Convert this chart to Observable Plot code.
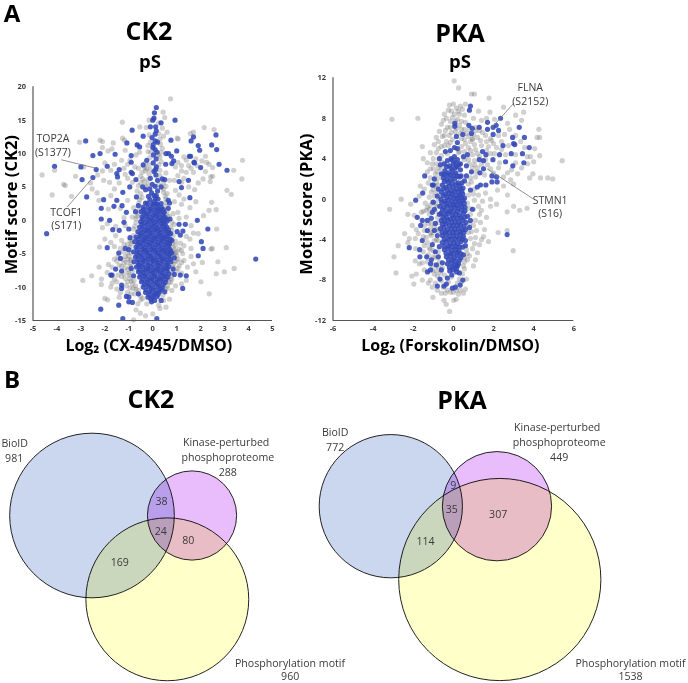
<!DOCTYPE html>
<html>
<head>
<meta charset="utf-8">
<script src="https://cdn.jsdelivr.net/npm/d3@7"></script>
<script src="https://cdn.jsdelivr.net/npm/@observablehq/plot@0.6"></script>
<style>
html,body{margin:0;padding:0;background:#fff}
#page{position:relative;width:688px;height:683px;overflow:hidden;font-family:"Open Sans",sans-serif}
#page svg{position:absolute;background:transparent}
.h{position:absolute;font-weight:700;color:#000;line-height:1;transform:translate(-50%,-50%);white-space:nowrap}
</style>
</head>
<body>
<div id="page"></div>
<script>
const ck2XTicks=[-5,-4,-3,-2,-1,0,1,2,3,4,5];
const ck2YTicks=[-15,-10,-5,0,5,10,15,20];
const pkaXTicks=[-6,-4,-2,0,2,4,6];
const pkaYTicks=[-12,-8,-4,0,4,8,12];

const ck2Hits=[[-4.43,-2],[-4.1,8.1],[-2.8,11.9],[-2.5,9.7],[-2.2,10],[-3,8],[-2.95,6.1],[-2.5,6.4],[-2.36,7.6],[-2.76,3.5],[-2.05,3.1],[-1.9,8.1],[-2.15,1.8],[-2.15,.2],[-1.8,0],[-1.67,-1.4],[-1.9,-4.1],[-2.17,-13.3],[-1.25,-14.7],[-1.42,-12.7],[.17,-14.7],[4.3,-5.8],[3.1,7.5],[2.77,8.4],[2.67,10.6],[2.64,12.8],[2.46,11.3],[1.7,12.5],[1.6,11.9],[1.9,11.2],[1.96,10.5],[1.53,9.6],[1.58,9.6],[1.74,8.6],[1.72,8.7],[2,7.9],[1.49,6],[1.1,5.8],[1.2,4.9],[1.55,3.4],[1.86,0],[2.3,-1.3],[2.03,-3.2],[2.1,-4.2],[1.9,-5.3],[1.4,-8.3],[1.25,-10.2],[1.15,-8.2],[1.1,-.6],[1.36,-.6],[1.26,-1.6],[1.02,-1.7],[1.15,-2.2],[.93,15],[.15,16.9],[.07,16.1],[.05,15.3],[0,15],[.35,14.6],[-.86,13.5],[-.4,12.6],[-.1,14],[.12,14],[.15,13.4],[.76,12],[-1.08,11.6],[-.65,11.3],[-.55,11],[-1.57,9.9],[-.9,9.7],[-.9,8.7],[-.4,8.3],[-.25,9],[.55,10],[.66,10],[.78,9.6],[1,10.4],[.87,8.9],[.8,8.5],[.54,8.4],[-1.4,7.6],[-1.5,7],[-1.47,6.5],[-.9,7.2],[-.85,7],[-.7,6.1],[-1.25,4.2],[-.96,5],[-1.5,3],[-1.62,2.1],[-1.28,2.2],[-.68,3.5],[-.3,4.6],[-.42,5],[-.12,4.7],[.2,4.4],[.35,5],[.4,6.2],[.5,6.1],[-.1,6.3],[.13,6.8],[.15,8],[.03,9.8],[.1,10.6],[.02,11.3],[.2,11.7],[-.03,12.4],[.1,12.9],[.65,3],[.7,2.6],[.65,1.8],[.72,.2],[-.72,1.3],[-.6,2.2],[-1.1,1.2],[-1.2,-.3],[-1,-1.3],[-.95,-2.6],[-1.4,-1.5],[-1,-4.4],[-1.15,-4.2],[-1.42,-4.9],[-1.35,-5.7],[-1.55,-7.3],[-1.75,-8.2],[-1.7,-8.2],[-1.3,-7.6],[-1.3,-9.7],[-1.3,-10.2],[-1.1,-11.4],[-1,-11.5],[-1,-12.2],[-.85,-12.3],[-.6,-11],[-.8,-8.3],[-.9,-7.2],[.8,-4.9],[.9,-5.6],[.85,-7.3],[.9,-8.1],[.5,-10.7],[.35,-12],[-.05,-12.2],[.75,-2],[.8,-3]];
const ck2Core=[[-.12,3.1],[.05,2.8],[.22,3.2],[-.3,2.6],[.35,2.5],[-.4,2],[-.2,1.9],[0,2.1],[.18,1.8],[.36,1.9],[-.48,1.3],[-.28,1.2],[-.08,1.4],[.1,1.1],[.3,1.3],[.48,1.2],[-.45,.5],[-.25,.6],[-.05,.4],[.15,.6],[.33,.4],[.5,.5],[-.5,-.2],[-.3,-.3],[-.12,-.1],[.08,-.3],[.27,-.1],[.45,-.3],[.6,-.1],[-.55,-1],[-.36,-.9],[-.17,-1.1],[.02,-.9],[.2,-1.1],[.4,-.9],[.58,-1],[-.62,-1.7],[-.42,-1.8],[-.24,-1.6],[-.05,-1.8],[.14,-1.6],[.33,-1.8],[.52,-1.6],[.68,-1.8],[-.7,-2.5],[-.5,-2.4],[-.3,-2.6],[-.12,-2.4],[.08,-2.6],[.27,-2.4],[.46,-2.6],[.63,-2.4],[-.75,-3.2],[-.56,-3.3],[-.37,-3.1],[-.18,-3.3],[0,-3.1],[.2,-3.3],[.39,-3.1],[.58,-3.3],[.72,-3.2],[-.7,-4],[-.5,-3.9],[-.31,-4.1],[-.11,-3.9],[.07,-4.1],[.27,-3.9],[.46,-4.1],[.65,-3.9],[-.8,-4.7],[-.58,-4.8],[-.38,-4.6],[-.2,-4.8],[0,-4.6],[.2,-4.8],[.39,-4.6],[.58,-4.8],[.75,-4.6],[-.72,-5.5],[-.5,-5.4],[-.3,-5.6],[-.1,-5.4],[.08,-5.6],[.28,-5.4],[.47,-5.6],[.66,-5.4],[-.78,-6.2],[-.58,-6.3],[-.38,-6.1],[-.2,-6.3],[0,-6.1],[.2,-6.3],[.39,-6.1],[.6,-6.3],[.76,-6.2],[-.68,-7],[-.48,-6.9],[-.28,-7.1],[-.09,-6.9],[.1,-7.1],[.29,-6.9],[.48,-7.1],[.67,-6.9],[-.6,-7.7],[-.4,-7.8],[-.2,-7.6],[0,-7.8],[.2,-7.6],[.39,-7.8],[.6,-7.6],[-.55,-8.5],[-.33,-8.4],[-.13,-8.6],[.07,-8.4],[.26,-8.6],[.46,-8.4],[.63,-8.5],[-.47,-9.2],[-.25,-9.3],[-.05,-9.1],[.15,-9.3],[.34,-9.1],[.52,-9.3],[-.4,-10],[-.18,-9.9],[.02,-10.1],[.22,-9.9],[.4,-10.1],[-.3,-10.8],[-.1,-10.7],[.1,-10.9],[.28,-10.7],[-.2,-11.5],[0,-11.5],[.18,-11.4],[.08,-12],[-.02,5.4],[.1,5.1],[.2,6],[.05,7.3],[.12,7.6],[.02,8.6],[.14,9.2],[.18,10.2],[0,10.9],[.1,11.9],[.05,3.7],[-.05,4.1],[.15,3.7]];
const ck2Core2=[[-.22,2.5],[-.02,2.45],[.15,2.5],[-.38,1.6],[-.1,1.65],[.09,1.55],[.27,1.6],[.44,1.6],[-.37,.9],[-.17,.95],[.02,.8],[.22,.9],[.42,.85],[-.4,.15],[-.2,.2],[-.01,.05],[.18,.15],[.38,.1],[.56,.2],[-.45,-.6],[-.21,-.55],[-.03,-.65],[.17,-.6],[.36,-.55],[.52,-.6],[-.46,-1.35],[-.27,-1.4],[-.08,-1.4],[.11,-1.35],[.3,-1.4],[.49,-1.3],[.65,-1.4],[-.53,-2.1],[-.33,-2.15],[-.14,-2.05],[.05,-2.2],[.24,-2.1],[.42,-2.2],[.6,-2.05],[-.6,-2.85],[-.4,-2.9],[-.21,-2.8],[-.02,-2.9],[.17,-2.8],[.36,-2.85],[.55,-2.8],[.72,-2.8],[-.62,-3.6],[-.42,-3.55],[-.24,-3.65],[-.05,-3.55],[.13,-3.65],[.33,-3.55],[.52,-3.65],[.7,-3.55],[-.64,-4.4],[-.42,-4.35],[-.25,-4.45],[-.05,-4.35],[.14,-4.45],[.33,-4.35],[.52,-4.45],[.7,-4.3],[-.66,-5.1],[-.45,-5.15],[-.26,-5.05],[-.08,-5.2],[.12,-5.05],[.32,-5.15],[.5,-5.05],[.7,-5.1],[-.62,-5.85],[-.42,-5.9],[-.2,-5.8],[-.02,-5.85],[.17,-5.95],[.37,-5.8],[.56,-5.9],[.74,-5.8],[-.6,-6.65],[-.4,-6.6],[-.2,-6.7],[0,-6.55],[.2,-6.65],[.4,-6.55],[.58,-6.65],[-.55,-7.35],[-.35,-7.4],[-.16,-7.3],[.03,-7.45],[.23,-7.35],[.42,-7.4],[.6,-7.25],[-.5,-8.1],[-.3,-8.15],[-.1,-8.05],[.1,-8.15],[.3,-8.05],[.5,-8.15],[.68,-8],[-.42,-8.85],[-.22,-8.9],[-.02,-8.8],[.18,-8.9],[.36,-8.8],[.55,-8.85],[-.35,-9.6],[-.13,-9.65],[.06,-9.55],[.25,-9.65],[.44,-9.6],[-.28,-10.4],[-.06,-10.35],[.13,-10.45],[.33,-10.35],[-.15,-11.1],[.05,-11.15],[.22,-11.05],[-.08,-11.8],[.12,3.3],[-.18,3.6],[.2,2.35]];
const ck2Rest=[[.74,18.2],[.43,16.2],[.5,15.4],[-1.27,14.7],[-.54,14],[-.27,13.9],[2.15,13.9],[2.56,13.6],[1.7,13.2],[1.57,13],[1.02,12.3],[1.06,12.2],[-2.2,12],[-2.1,11.8],[-3.05,11.7],[-1.65,11.6],[-1.26,12.3],[-1.18,12],[-2.1,10.9],[-1.87,10.4],[-1.7,10.7],[3.75,9],[3.38,7.5],[3.72,6.2],[3.1,4.5],[3.28,3.9],[2.46,2.7],[2.65,1.6],[2.35,1.5],[2.12,.7],[2.67,-1.3],[2.49,-4.2],[2.43,-4.3],[3.07,-4.1],[2.72,-6.2],[3.4,-7.2],[2.99,-7.7],[2.65,-8],[2.36,-11],[2.01,-9.2],[2.07,-6.3],[-4.62,6.8],[-4.1,7.5],[-4.2,3.8],[-3.72,5.4],[-3.65,5.2],[-3.22,6.6],[-3.39,3.6],[-2.88,8],[-2.53,4.7],[-2.32,4.1],[-2.25,3],[-2.92,-9],[-2.55,-8.3],[-2.24,-7],[-2.14,-8.8],[-2.15,-9.6],[-2,-11.7],[-1.88,-11.9],[-2.22,-4],[-2,-2.8],[-2.1,-1.1],[-.8,-14.9],[-.52,-13.9],[-.3,-14.3],[0,-14],[.3,-13.2],[.55,-13],[-.7,-13.4],[2.05,8.9],[2.25,8.7],[2.35,8.4],[2.5,7.9],[2.2,7.3],[2.42,6.5],[2.5,6.6],[2.1,6.2],[1.9,5.6],[2.4,5.8],[2.2,9.6],[1.8,9.2],[1.4,9],[1.2,7.4],[1.4,7.2],[1.7,7.2],[1.05,6.7],[1.3,6.3],[.9,6],[.95,4.5],[1.1,3.8],[.9,2.8],[1.2,2.4],[1.55,1.9],[1.05,1.2],[1.4,.5],[1.7,-1.9],[1.55,-2.8],[1.3,-3.8],[1.1,-4.3],[1.25,-5],[1.6,-4.2],[1.7,-6.5],[1.45,-7],[1.1,-6.8],[1.2,-9.5],[.95,-9.8],[.8,-10.5],[.7,-11.8],[-2,8.6],[-1.75,7.5],[-1.6,8.4],[-1.3,9],[-1.15,10.5],[-.7,9.8],[-.55,10.2],[-2.05,6],[-1.8,5.7],[-1.4,5.6],[-1.05,6.3],[-.6,7.8],[-.5,6.6],[-.3,7.4],[-1.75,3.7],[-1.05,3],[-1.9,-.5],[-1.55,-2.3],[-1.3,-3],[-1.75,-3.3],[-1.6,-5.8],[-1.85,-6.6],[-1.4,-6.7],[-1.05,-5.8],[-1.15,-7.1],[-1.6,-8.8],[-1.75,-10],[-1.5,-10.3],[-1.05,-9.2],[-.95,-10.1],[-1.4,-11.5],[-.75,-11],[-1.15,-.8],[-.85,.5],[-.8,1.9],[-.55,3.1],[-.65,4.4],[.6,4],[.55,3.2],[.85,1],[.9,-.6],[.95,-3.7],[1,-5.3],[1,-7.6],[.75,-9.3],[.3,7.5],[.35,8.8],[.4,10.8],[.45,12.6],[.6,13.2],[-.2,10.3],[-.25,7.7],[-.35,5.8],[-.15,6.9],[-.2,5.4],[.55,7.1],[.7,6],[.45,4.7],[-.9,-3.5],[-1.05,-4.9],[-.9,-5.8],[-1.15,-5.4],[-.95,-8.7],[-.85,-9.5],[-.7,-10.3],[-.9,-6.5],[-1,-7.9],[.85,-6.6],[.95,-4.9],[.85,-4.1],[1,-6.1],[.8,-8.8],[.6,-10.2],[-.5,-11.9],[-.25,-12.5],[.25,-12.7],[.45,-12],[-.95,-3],[-.8,-1.3],[-.7,-.3],[.75,-1],[.85,-2.3],[-1.3,-8.4],[-1.2,-6.4],[-1.45,-8.2],[-1.25,-4.7],[1.2,-7.9],[-.65,.6],[-.55,1.5],[.6,.8],[.55,2.1]];
const ck2Rest2=[[-.95,-4],[-1.05,-3.6],[-.88,-4.9],[-1,-5.3],[-.92,-6],[-1.08,-6.3],[-.95,-6.9],[-.85,-7.6],[-1.05,-7.4],[-.98,-8.2],[-.78,-9],[-.9,-9.1],[-.72,-9.8],[-.82,-10.2],[-.6,-10.5],[-.52,-11.3],[-.42,-11.7],[-1.25,-5.9],[-1.3,-6.9],[-1.2,-8],[-1.15,-8.7],[-1.1,-9.8],[-1.2,-3.6],[-1.35,-4.2],[-1.45,-5.5],[-.85,-3.2],[-.8,-2.3],[-.75,-.9],[-.7,.3],[-.62,1],[-.58,2.6],[.82,-3.5],[.9,-4.4],[.88,-5.2],[.92,-6.2],[.85,-7],[.82,-7.8],[.75,-8.6],[.68,-9.2],[.62,-9.8],[.52,-10.3],[.42,-11.2],[.95,-3.1],[1,-4.7],[1.05,-5.8],[1.05,-7.2],[1.15,-3.4],[1.2,-4.5],[1.2,-6.3],[.8,-1.5],[.8,-.3],[.68,.6],[.6,1.4],[.55,2.7],[.52,3.6],[.45,4.2],[-.45,3.4],[-.5,4],[-.6,5.2],[-.5,5.6],[-.42,6.2],[-.45,7.2],[-.35,7.9],[-.3,8.6],[-.15,8.3],[-.1,7.6],[-.2,6.1],[-.3,5.1],[.25,5.4],[.3,6.7],[.45,5.6],[.55,5.1],[.25,8.3],[.3,9.5],[.22,9.8],[.35,10.2],[-.12,9.4],[-.08,10.2],[-.2,11.2],[-.1,11.7],[.32,11.4],[.3,12.2],[.25,13],[-.15,12.8],[.4,13.8],[.25,14.6],[-.15,15],[-1.2,7.8],[-1.05,8.4],[-.95,9],[-1.15,6.9],[-.85,5.7],[-.75,8],[.95,8],[1.05,8.7],[1.2,8.2],[1.5,8.2],[1.3,9.5],[1.6,7.8],[1.85,8.2],[1.2,5.7],[1.5,5],[1.75,4.6],[1.3,3.2],[1.8,2.8],[1.1,.3],[1.6,-.8],[1.9,-2],[1.4,-2.4],[1.6,-5.4],[1.3,-6],[1.4,-9],[1.8,-7.7],[-1.55,-.9],[-1.85,1.7],[-1.2,.4],[-1.35,1.8],[-2.3,6.8],[-2.1,7.4],[-2.6,5.6],[-1.6,4.7],[-1.9,-7.8],[-1.7,-9.4],[-1.5,-9.2],[-1.35,-10.8],[-1.05,-10.8],[-.9,-11],[-.62,-12.5],[-1.6,-3.9],[-1.5,-6.1],[-1.7,-7]];

const pkaHits=[[.85,9.2],[.8,8.8],[2.35,8],[1.7,7.6],[1.7,6.9],[1.98,7.1],[2.13,7.3],[2.25,6.8],[1.98,6.4],[3.28,7.1],[1.29,7.1],[.77,7.3],[.94,7],[.9,6.5],[.47,6.4],[.07,7.5],[.07,7.2],[2.95,6.1],[3.54,6.1],[3,5.5],[3.06,5.4],[3.78,5.1],[2.47,5.3],[3.44,4.5],[2.88,4.5],[2.3,4.4],[1.45,4.7],[1.62,4.4],[3.51,3.6],[2.6,3.7],[2.96,3.3],[1.97,3.9],[1.29,3.9],[1.5,3.8],[1.5,3],[1.32,2.6],[1.92,2.3],[2.15,2.2],[1.92,1.7],[2.18,1.7],[1.62,1.4],[1.35,1.4],[1.19,1.2],[2.68,-3.5],[-2.2,-4.8],[-1.88,-.1],[-1.53,.6],[-1.43,2.3],[-1.05,1.4],[-1,1.4],[-1.8,-1.8],[-1.55,-2.1],[-1.63,-2.6],[-1.3,-2.1],[-1.3,-3.1],[-1.55,-4.1],[-1.68,-5],[-1.67,-5.7],[-1.33,-5.7],[-1.29,-7.2],[-1.14,-7],[-1.14,-6.4],[-.8,-8.6],[-.67,-7.9],[-.47,-8.6],[-.35,-8.4],[-.3,-7.8],[-.05,-8.8],[.1,-8.7],[.34,-8.5],[.47,-8],[.05,5.1],[.2,5.6],[.2,5],[.15,6.2],[-.15,4.8],[-.4,4.7],[.5,4.2],[.7,4.4],[.35,3.5],[.65,3.3],[.9,2.7],[.65,2.3],[.55,1.8],[.85,.9],[.95,-1],[.85,-2.1],[.8,-2.8],[.6,-4.1],[.6,-4.6],[.5,-5.5],[-.7,4],[-.65,3.4],[-.6,2.5],[-.95,2],[-.75,1],[-1,-.3],[-.95,-1],[-1.05,-1.3],[-1.1,-1.9],[-.9,-2.4],[-.95,-3.1],[-1.05,-4.5],[-.9,-5.2],[-1.1,-6],[-.85,-6.5],[-.75,-5.7],[-.6,-7],[.3,-7.3],[.2,-6.6],[.6,-3],[.7,-1.7],[-.55,-6.3],[-.7,-4.7],[-.8,-3.6],[-.8,.3],[-.7,-1.5]];
const pkaCore=[[-.12,4],[.05,4.2],[.2,3.9],[-.3,3.8],[-.45,3.5],[-.2,3.3],[0,3.5],[.18,3.2],[.35,2.9],[-.42,2.8],[-.25,2.6],[-.05,2.8],[.12,2.6],[.3,2.2],[-.5,2.1],[-.32,1.9],[-.13,2],[.06,2],[.23,1.6],[.42,1.6],[-.55,1.4],[-.38,1.2],[-.2,1.3],[-.02,1.2],[.15,1],[.35,1],[-.6,.7],[-.4,.5],[-.22,.6],[-.05,.5],[.13,.3],[.3,.4],[.47,.5],[-.62,0],[-.43,-.2],[-.25,-.1],[-.08,-.2],[.1,-.3],[.28,-.2],[.46,-.1],[-.68,-.7],[-.48,-.8],[-.3,-.7],[-.12,-.9],[.06,-.8],[.24,-.9],[.42,-.7],[.58,-.8],[-.62,-1.4],[-.42,-1.5],[-.25,-1.4],[-.06,-1.6],[.12,-1.5],[.3,-1.6],[.5,-1.4],[-.6,-2.1],[-.44,-2.2],[-.27,-2.1],[-.08,-2.3],[.1,-2.2],[.28,-2.3],[.46,-2.1],[.62,-2.3],[-.65,-2.9],[-.47,-2.8],[-.3,-3],[-.1,-2.9],[.07,-3],[.25,-2.9],[.44,-3],[-.55,-3.6],[-.37,-3.5],[-.18,-3.7],[0,-3.6],[.18,-3.7],[.35,-3.5],[.5,-3.7],[-.55,-4.3],[-.35,-4.2],[-.15,-4.4],[.03,-4.3],[.2,-4.4],[.38,-4.2],[-.45,-5],[-.27,-4.9],[-.08,-5.1],[.1,-5],[.28,-5.1],[-.35,-5.7],[-.15,-5.6],[.05,-5.8],[.2,-5.6],[.37,-5.8],[-.3,-6.4],[-.1,-6.3],[.08,-6.5],[.26,-6.4],[-.18,-7.1],[0,-7],[.16,-7.2]];
const pkaCore2=[[-.05,3.85],[.12,3.6],[-.35,3.2],[-.12,3.05],[.08,3.1],[.28,3.4],[-.48,2.45],[-.33,2.35],[-.15,2.4],[.02,2.35],[.2,2.3],[.38,2.3],[-.45,1.75],[-.24,1.65],[-.05,1.6],[.14,1.45],[.32,1.3],[.48,1.1],[-.5,1],[-.3,.9],[-.12,.85],[.06,.75],[.24,.7],[.42,.8],[-.52,.35],[-.33,.2],[-.15,.25],[.03,.1],[.2,.05],[.38,.2],[.55,.1],[-.58,-.35],[-.35,-.45],[-.17,-.55],[0,-.55],[.18,-.6],[.36,-.45],[.54,-.4],[-.55,-1.05],[-.36,-1.15],[-.18,-1.2],[0,-1.2],[.2,-1.2],[.4,-1.1],[.58,-1.15],[-.52,-1.8],[-.35,-1.8],[-.15,-1.95],[.02,-1.85],[.2,-1.9],[.38,-1.85],[.56,-1.8],[-.55,-2.5],[-.37,-2.45],[-.2,-2.6],[0,-2.6],[.18,-2.6],[.36,-2.55],[.54,-2.65],[-.57,-3.25],[-.4,-3.25],[-.2,-3.3],[-.02,-3.3],[.16,-3.3],[.35,-3.25],[.52,-3.3],[-.46,-3.95],[-.27,-3.95],[-.08,-4],[.1,-3.95],[.28,-3.95],[.45,-3.95],[-.45,-4.65],[-.25,-4.65],[-.05,-4.7],[.13,-4.7],[.3,-4.7],[.45,-4.75],[-.37,-5.35],[-.17,-5.35],[0,-5.4],[.19,-5.3],[.38,-5.4],[-.25,-6],[-.05,-6],[.12,-6.15],[.3,-6.05],[-.2,-6.75],[-.03,-6.7],[.15,-6.85],[-.08,-7.5]];
const pkaRest=[[.04,11.7],[.26,11],[.9,10.4],[1.05,10.4],[1.78,10],[-3.06,7.9],[-1.77,8],[1.82,8.6],[2.5,9.1],[3.5,8.6],[3.1,8.3],[3.4,7.8],[2.8,6.9],[4.26,6.9],[4.17,6.1],[4.3,6.1],[5.42,3.8],[3.84,4.2],[3.68,4.2],[3.96,2.5],[3.8,2.1],[4.34,2.1],[4.7,2.1],[4.95,2],[2.85,1.9],[3.2,2.5],[3.67,-.9],[3.3,-1.1],[2.68,-1.25],[3,-.7],[1.85,0],[1.85,-.7],[2.23,-3.3],[2.68,-3.1],[2.98,-5.1],[-3.18,-1],[-2.6,0],[-2.75,-4.6],[-2.96,-5.7],[-2.86,-7.3],[-2.07,-7.6],[-1.97,-8.4],[-2.27,-1.5],[-2.13,-.5],[-2.43,-3.4],[-2.27,-4.3],[-1.88,-4.9],[-1.02,-9.7],[-.47,-10],[-.36,-10.4],[-.19,-11.1],[.02,-10],[.14,-9.9],[-.8,-9],[-.2,9.3],[0,9.4],[.15,9],[.35,9.2],[.6,9.4],[-.1,8.7],[.3,8.4],[-.35,8],[-.05,8.1],[.2,7.9],[.55,8.3],[1.25,8.7],[-.6,7.4],[-.3,7.1],[.3,7.3],[.55,6.9],[1,8],[1.4,7.8],[1.65,8],[2.05,7.9],[2.7,7.5],[-.85,6.1],[-.55,6.2],[-.2,6.3],[.55,5.9],[.85,5.7],[1.2,6.1],[1.45,6.6],[1.85,6],[2.25,6.3],[2.55,6.4],[3.1,6.3],[3.35,5.7],[-.95,5.4],[-.6,5.2],[.4,5.2],[.75,5.1],[1.05,5.4],[1.4,5.3],[1.75,5.2],[2,5.5],[2.75,5.3],[3.55,5.1],[4.05,5],[-1.55,5.2],[-1.15,4.6],[-.85,4.6],[.95,4.4],[1.2,4.5],[1.85,4.5],[2.6,4.4],[3.1,4.4],[-1.5,4],[-1.05,3.5],[-1,3],[1.05,3.4],[1.7,3.4],[2.25,3.1],[2.7,2.6],[3.4,3.1],[-1.3,2.7],[-1.25,1.6],[1.1,2.2],[1.55,2.4],[2.5,1.3],[3,1.5],[-1.65,1.3],[-1.45,1],[-1.2,.2],[1.05,1],[1.6,.6],[2.2,.9],[2.7,.4],[-1.7,.3],[-1.4,-.4],[-1.15,-.6],[1.05,-.1],[1.25,-.7],[2.15,-.5],[-1.95,-1.6],[-1.5,-1.2],[-1.2,-1.5],[1,-1],[1.3,-1.5],[1.65,-1.8],[-2.05,-2.6],[-1.85,-3],[-1.45,-3.1],[-1.15,-2.9],[1,-2.6],[1.35,-2.3],[1.55,-3],[-2.2,-3.9],[-1.9,-3.9],[-1.3,-4.3],[1.1,-3.8],[1.5,-3.7],[1.75,-4.2],[1.3,-4.5],[-1.9,-6.1],[-1.5,-5.2],[-1.15,-5],[.95,-4.9],[1.1,-6],[-1.7,-6.4],[-1.45,-7],[-1.55,-8],[-1.15,-8],[-.95,-7.4],[.55,-6.9],[.65,-7.9],[.6,-8.9],[-.6,-9.3],[-.15,-9.2],[.25,-9.4],[-.9,-8.3],[-.55,-6.8],[-.85,-3],[-.85,-4],[-.9,-.5],[-.85,.6],[-.85,1.7],[.75,.4],[.7,-.4],[.75,-3.3],[.7,-5.4],[.55,-6.2],[.75,1.5],[.85,2.1],[-.6,3],[-.75,5.7],[.1,6.7],[-.4,6.8],[.75,6.2],[.4,6],[.6,7.6],[-.15,5.6],[.3,4.7],[.55,3.9],[.8,3.5],[-.8,2.7],[1.3,6.8],[1.65,5.7],[2.4,5.7],[1.1,7.1],[1,6.4],[1.6,3.9],[2.3,3.6],[1.2,3.1],[-1.1,-3.6],[-1.35,-3.8],[-1.25,-5.5],[-1,-5.7],[-1.05,-7],[-.75,-6.7],[-.6,-8.1],[-.25,-8.2],[.3,-7.9],[.2,-8.3],[-.1,-7.7],[-.8,-7.6]];
const pkaRest2=[[-.25,8.8],[.05,8.4],[.25,8.7],[.45,8.9],[-.45,8.4],[-.15,7.7],[.1,7.7],[.4,7.7],[-.5,7.8],[-.15,7.1],[.15,7],[.4,6.9],[-.7,6.7],[-.45,6.3],[-.1,6.6],[.35,6.5],[.65,6.5],[-.35,5.7],[-.05,5.9],[.6,5.5],[.95,5.9],[-.75,5],[-.45,5.3],[-.25,5.3],[.55,4.7],[.85,4.8],[.25,4.6],[-.3,4.5],[-.6,4.3],[1.1,4.9],[1.35,5.8],[1.6,6.3],[1.1,6.8],[.8,6.9],[.95,6],[1.3,4.2],[1.65,4.8],[1.05,3.8],[.75,3.9],[.95,3.1],[1.15,2.7],[1.4,3.4],[1.85,3],[2.05,4.5],[2.15,5.1],[2.4,4.9],[1.9,5.8],[.9,1.7],[1,.5],[.8,-.9],[.85,-1.5],[.8,-2.4],[.9,-3.2],[.85,-3.9],[.65,-5],[.7,-6],[.55,-5.8],[.5,-6.6],[.45,-7.4],[.4,-8.2],[.35,-9],[0,-9.2],[-.3,-9],[-.5,-8.7],[-.45,-7.5],[-.65,-7.3],[-.7,-6.2],[-.9,-5.8],[-1,-5.1],[-.75,-5.2],[-.95,-4.1],[-.75,-4.1],[-1.05,-3.3],[-.75,-3.1],[-.95,-2.7],[-.75,-2.3],[-1.1,-2.4],[-.8,-1.8],[-.9,-1.2],[-1.2,-1],[-.8,-.7],[-1.05,-.3],[-.75,-.1],[-.95,.3],[-1.1,.7],[-.75,1.4],[-1,.95],[-.9,1.3],[-1.15,2.1],[-.75,2.1],[-.9,2.5],[-.75,3.1],[-1.15,3],[-.85,3.5],[-1.3,3.6],[-.6,3.7],[-1,4],[-1.35,-1.1],[-1.25,-2.4],[-1.45,-2.6],[-1.6,-1.3],[-1.3,-.8],[-1.15,-3.4],[-1.5,-3.7],[-1.75,-3.4],[-1.2,-4.8],[-1.45,-4.6],[-1.3,-6.2],[-1.55,-6.3],[-1.85,-7.4],[-1.25,-8.3],[-1.05,-8.7],[-.85,-7.1],[-1,-6.5],[-.4,-9.3],[.15,-9],[.5,-9.3],[1,-6.6],[.8,-5.6],[1.2,-5.3],[1.05,-4.4],[1.4,-4],[1.15,-3.1],[1.1,-2.1],[1.4,-1.1],[1.45,-.2],[1.25,.4],[2,2.6],[2.5,2.2],[2.9,2.9],[3.1,3.6],[3.7,3.5],[4.3,4.3],[4,3.7]];

const ck2Sets=[981,288,960], ck2Shared=[38,24,80,169];
const pkaSets=[772,449,1538], pkaShared=[9,35,307,114];
const setColors=["#cbd7ef","#e9bdfb","#ffffc9"];

const page=document.getElementById("page");
const ink="#3a3a3a", font="Open Sans";

function scatter({left,width,mL,mR,mT,mB,xd,yd,xt,yt,grey,blue,ylab,xlab,ydy,xdx,links,notes}){
  const pts=a=>a.map(([x,y])=>({x,y}));
  const p=Plot.plot({width,height:365,marginLeft:mL,marginRight:mR,marginTop:mT,marginBottom:mB,
    style:{fontFamily:font,background:"transparent"},
    x:{domain:xd,axis:null},y:{domain:yd,axis:null},
    marks:[
      Plot.axisX({ticks:xt,tickSize:0,tickPadding:5,fontSize:7.5,fontWeight:700,fill:ink,label:null,tickFormat:String}),
      Plot.axisY({ticks:yt,tickSize:0,tickPadding:7,fontSize:7.5,fontWeight:700,fill:ink,label:null,tickFormat:String}),
      Plot.dot(pts(grey),{x:"x",y:"y",r:2.6,fill:"#6e6e6e",fillOpacity:.32}),
      Plot.dot(pts(blue),{x:"x",y:"y",r:2.6,fill:"#3349b8",fillOpacity:.88}),
      Plot.ruleX([xd[0]],{stroke:"#555",strokeWidth:1.2}),
      Plot.ruleY([yd[0]],{stroke:"#555",strokeWidth:1.2}),
      Plot.link(links,{x1:"x1",y1:"y1",x2:"x2",y2:"y2",stroke:"#777",strokeWidth:.8}),
      Plot.text(notes,{x:"x",y:"y",text:"t",fontSize:10.5,fill:ink}),
      Plot.text([ylab],{frameAnchor:"left",textAnchor:"middle",dx:-mL+11,dy:ydy,rotate:-90,fontSize:16.5,fontWeight:700,fill:"#000"}),
      Plot.text([xlab],{frameAnchor:"bottom",dx:xdx,dy:25,lineAnchor:"middle",fontSize:16,fontWeight:700,fill:"#000"})
    ]});
  p.style.left=left+"px";p.style.top="0";
  page.append(p);
}

scatter({left:0,width:295,mL:32.5,mR:23,mT:86.3,mB:45,xd:[-5,5],yd:[-15,20],xt:ck2XTicks,yt:ck2YTicks,
  grey:ck2Rest.concat(ck2Rest2),blue:ck2Hits.concat(ck2Core,ck2Core2),ylab:"Motif score (CK2)",xlab:"Log₂ (CX-4945/DMSO)",ydy:1,xdx:-4,
  links:[{x1:-3.82,y1:9.07,x2:-2.36,y2:7.8},{x1:-3.57,y1:2,x2:-2.5,y2:6.4}],
  notes:[{x:-4.17,y:12.3,t:"TOP2A"},{x:-4.17,y:10.2,t:"(S1377)"},{x:-3.61,y:1.2,t:"TCOF1"},{x:-3.61,y:-.8,t:"(S171)"}]});

scatter({left:295,width:300,mL:37.5,mR:21.7,mT:77.3,mB:45,xd:[-6,6],yd:[-12,12],xt:pkaXTicks,yt:pkaYTicks,
  grey:pkaRest.concat(pkaRest2),blue:pkaHits.concat(pkaCore,pkaCore2),ylab:"Motif score (PKA)",xlab:"Log₂ (Forskolin/DMSO)",ydy:5,xdx:-3,
  links:[{x1:3.01,y1:9.5,x2:1.93,y2:7.1},{x1:4,y1:0,x2:1.68,y2:3}],
  notes:[{x:3.83,y:11,t:"FLNA"},{x:3.83,y:9.66,t:"(S2152)"},{x:4.82,y:-.16,t:"STMN1"},{x:4.82,y:-1.48,t:"(S16)"}]});

// Venn geometry: circle area = set size, lens area = shared count
const lens=(a,b,d)=>{
  if(d>=a+b) return 0;
  if(d<=Math.abs(a-b)) return Math.PI*Math.min(a,b)**2;
  const d1=(d*d+a*a-b*b)/(2*d), d2=d-d1, h=Math.sqrt(a*a-d1*d1);
  return a*a*Math.acos(d1/a)-d1*h+b*b*Math.acos(d2/b)-d2*h;
};
const solve=(a,b,area)=>{let lo=Math.abs(a-b),hi=a+b;for(let i=0;i<60;i++){const m=(lo+hi)/2;lens(a,b,m)>area?lo=m:hi=m;}return (lo+hi)/2;};
function venn(sets,shared,ax,ay,scale){
  const [r0,r1,r2]=sets.map(n=>Math.sqrt(n/Math.PI));
  const d01=solve(r0,r1,shared[0]+shared[1]), d02=solve(r0,r2,shared[3]+shared[1]), d12=solve(r1,r2,shared[2]+shared[1]);
  const u=(d01*d01+d02*d02-d12*d12)/(2*d01), v=Math.sqrt(d02*d02-u*u);
  const c=[[0,0],[d01,0],[u,v]];
  return sets.map((n,i)=>({n,x:ax+c[i][0]*scale,y:ay+c[i][1]*scale,r:[r0,r1,r2][i]*scale,fill:setColors[i]}));
}
const circles=[...venn(ck2Sets,ck2Shared,91.5,150,4.658),...venn(pkaSets,pkaShared,390.3,140.7,4.569)];
const T=(t,x,y)=>({t,x,y:y-365});
const vennLabels=[
  T("BioID",14.2,443.3),T(String(ck2Sets[0]),13.7,458.3),
  T("Kinase-perturbed",225.7,441.7),T("phosphoproteome",227.3,456.7),T(String(ck2Sets[1]),227.3,471.7),
  T("Phosphorylation motif",289.5,662.7),T(String(ck2Sets[2]),289.7,676.5),
  T("BioID",334.7,432),T(String(pkaSets[0]),334.7,447.3),
  T("Kinase-perturbed",556.7,427),T("phosphoproteome",558.7,442.3),T(String(pkaSets[1]),558.7,457),
  T("Phosphorylation motif",630,662.7),T(String(pkaSets[2]),630,676.5),
  T(String(ck2Shared[0]),161,500.7),T(String(ck2Shared[1]),160.3,531.3),T(String(ck2Shared[2]),187.7,540),T(String(ck2Shared[3]),119.3,562.3),
  T(String(pkaShared[0]),452.7,485),T(String(pkaShared[1]),451.3,509),T(String(pkaShared[2]),497.7,514.3),T(String(pkaShared[3]),425,541)
];
const vp=Plot.plot({width:688,height:318,margin:0,style:{fontFamily:font,background:"transparent"},
  x:{domain:[0,688],range:[0,688],axis:null},y:{domain:[0,318],range:[0,318],axis:null},r:{type:"identity"},
  marks:[
    Plot.dot(circles,{x:"x",y:"y",r:"r",fill:"fill",stroke:"#222",strokeWidth:1,mixBlendMode:"multiply"}),
    Plot.text(vennLabels,{x:"x",y:"y",text:"t",fontSize:10.6,fill:ink})
  ]});
vp.style.left="0";vp.style.top="365px";
page.append(vp);

[["A",12,13,24],["B",12,379,24],["CK2",149,30,25],["pS",150,61,18.5],["PKA",460,32,25],["pS",460,61,18.5],["CK2",151,398,25],["PKA",462,399,25]].forEach(([t,x,y,s])=>{
  const d=document.createElement("div");d.className="h";d.textContent=t;
  d.style.left=x+"px";d.style.top=y+"px";d.style.fontSize=s+"px";page.append(d);
});
</script>
</body>
</html>
